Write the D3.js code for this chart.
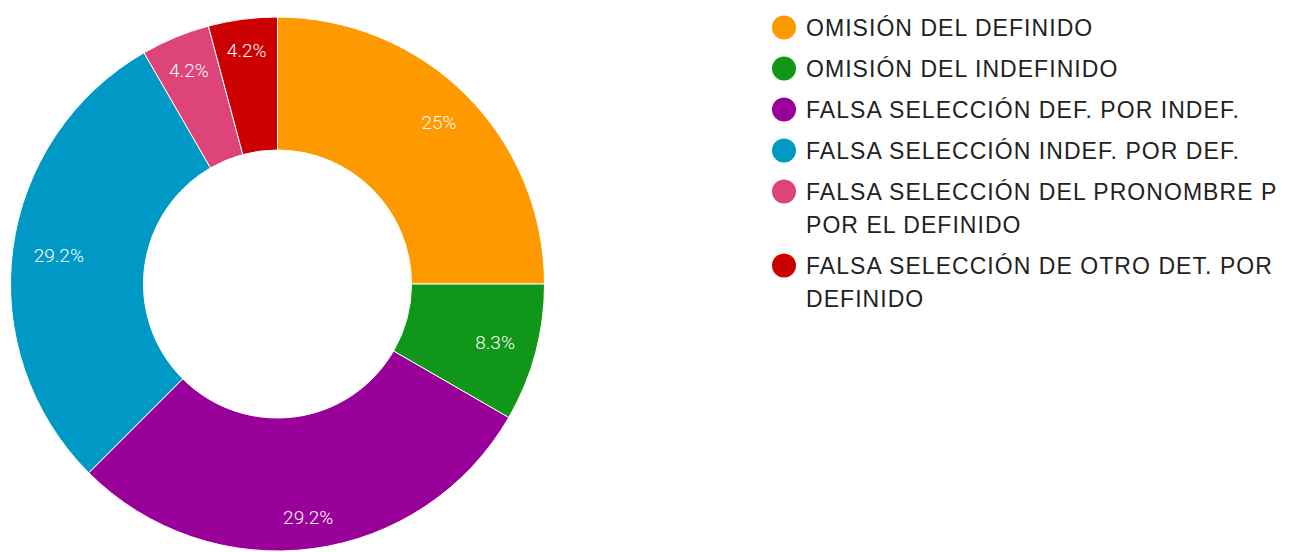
<!DOCTYPE html>
<html><head><meta charset="utf-8">
<script src="https://cdn.jsdelivr.net/npm/d3@7"></script>
<style>html,body{margin:0;padding:0;background:#fff;overflow:hidden}</style>
</head><body>
<svg id="chart" width="1291" height="552"></svg>
<script>
const categories = [
  ["OMISIÓN DEL DEFINIDO"],
  ["OMISIÓN DEL INDEFINIDO"],
  ["FALSA SELECCIÓN DEF. POR INDEF."],
  ["FALSA SELECCIÓN INDEF. POR DEF."],
  ["FALSA SELECCIÓN DEL PRONOMBRE P", "POR EL DEFINIDO"],
  ["FALSA SELECCIÓN DE OTRO DET. POR", "DEFINIDO"]
];
const values = [6, 2, 7, 7, 1, 1];
const percentLabels = ["25%", "8.3%", "29.2%", "29.2%", "4.2%", "4.2%"];
const colors = ["#ff9900", "#109618", "#990099", "#0099c6", "#dd4477", "#cc0000"];

const svg = d3.select("#chart");
const cx = 277.5, cy = 284, R = 267, r = 134, labelC = 246.5, halfH = 8;
const pie = d3.pie().sort(null).value(d => d)(values);
const arc = d3.arc().innerRadius(r).outerRadius(R);
const g = svg.append("g").attr("transform", `translate(${cx},${cy})`);
g.selectAll("path").data(pie).join("path")
  .attr("d", arc).attr("fill", (d, i) => colors[i])
  .attr("stroke", "#fff").attr("stroke-width", 1);
g.selectAll("text").data(pie).join("text")
  .attr("text-anchor", "middle").attr("dy", "0.35em")
  .attr("fill", "#fff").attr("font-family", "Roboto").attr("font-weight", 300)
  .attr("font-size", 19)
  .text((d, i) => percentLabels[i])
  .attr("transform", function(d) {
    const a = (d.startAngle + d.endAngle) / 2;
    const w = this.getComputedTextLength() / 2;
    const rr = labelC - (w * Math.abs(Math.sin(a)) + halfH * Math.abs(Math.cos(a)));
    return `translate(${rr * Math.sin(a)},${-rr * Math.cos(a)})`;
  });

// legend
const lineH = 33, rowGap = 41;
let y = 27.5;
const lg = svg.append("g");
categories.forEach((lines, i) => {
  lg.append("circle").attr("cx", 784).attr("cy", y).attr("r", 12).attr("fill", colors[i]);
  lines.forEach((t, j) => {
    lg.append("text").attr("x", 806).attr("y", y + j * lineH).attr("dy", "0.36em")
      .attr("font-family", "Liberation Sans, Arial, sans-serif").attr("font-size", 23)
      .attr("letter-spacing", 1.05)
      .attr("fill", "#222").text(t);
  });
  y += (lines.length - 1) * lineH + rowGap;
});
</script>
</body></html>
